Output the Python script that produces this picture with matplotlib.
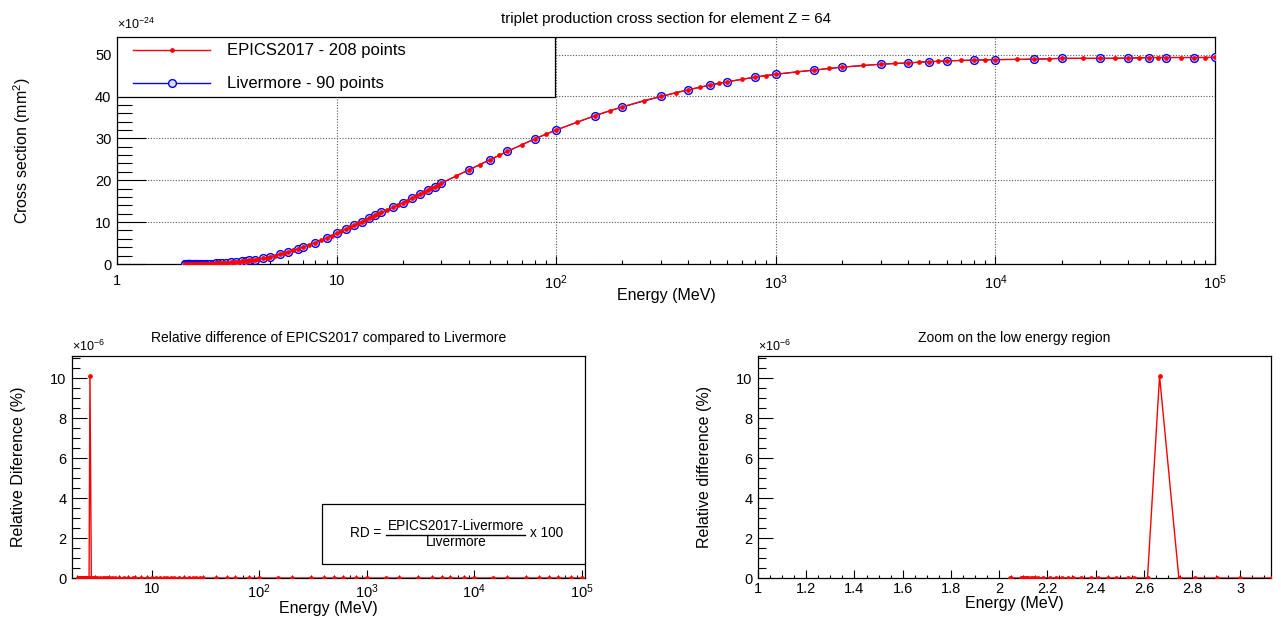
import numpy as np
import matplotlib
matplotlib.use("Agg")
import matplotlib.pyplot as plt
from matplotlib.patches import Rectangle
from matplotlib.lines import Line2D
from matplotlib.ticker import LogLocator, MultipleLocator, FuncFormatter, NullFormatter

plt.rcParams["font.family"] = ["Liberation Sans", "DejaVu Sans"]
plt.rcParams["mathtext.fontset"] = "custom"
plt.rcParams["mathtext.rm"] = "Liberation Sans"
plt.rcParams["mathtext.it"] = "Liberation Sans:italic"
plt.rcParams["mathtext.bf"] = "Liberation Sans:bold"

# Livermore triplet grid (MeV) and cross section (x1e-24 mm^2)
liv_energy = [
    2.044, 2.05, 2.09, 2.095, 2.1, 2.105, 2.11, 2.115, 2.12, 2.13,
    2.14, 2.15, 2.16, 2.18, 2.21, 2.235, 2.26, 2.285, 2.305, 2.34,
    2.38, 2.41, 2.45, 2.485, 2.535, 2.56, 2.615, 2.665, 2.745, 2.81,
    2.905, 3.0, 3.13, 3.3, 3.5, 3.7, 3.85, 4.0, 4.25, 4.6,
    5.0, 5.5, 6.0, 6.7, 7.0, 8.0, 9.0, 10, 11, 12,
    13, 14, 15, 16, 18, 20, 22, 24, 26, 28,
    30, 40, 50, 60, 80, 100, 150, 200, 300, 400,
    500, 600, 800, 1000, 1500, 2000, 3000, 4000, 5000, 6000,
    8000, 1e4, 1.5e4, 2e4, 3e4, 4e4, 5e4, 6e4, 8e4, 1e5,
]
liv_xs = [
    0.0, 0.00002, 0.0003, 0.0004, 0.0005, 0.0006, 0.0008, 0.0009, 0.0011, 0.0014,
    0.0018, 0.0022, 0.0027, 0.0038, 0.0057, 0.0076, 0.0098, 0.012, 0.014, 0.018,
    0.024, 0.029, 0.036, 0.043, 0.054, 0.060, 0.074, 0.088, 0.112, 0.135,
    0.17, 0.21, 0.27, 0.36, 0.48, 0.61, 0.72, 0.85, 1.05, 1.35,
    1.75, 2.3, 2.85, 3.65, 4.0, 5.1, 6.2, 7.3, 8.3, 9.25,
    10.1, 10.9, 11.6, 12.3, 13.5, 14.6, 15.7, 16.7, 17.6, 18.5,
    19.3, 22.5, 24.9, 26.9, 29.9, 32.0, 35.4, 37.5, 40.0, 41.6,
    42.7, 43.5, 44.6, 45.3, 46.3, 47.0, 47.7, 48.0, 48.3, 48.5,
    48.7, 48.8, 48.9, 49.1, 49.1, 49.15, 49.3, 49.3, 49.3, 49.35,
]

# EPICS2017 points that are not on the Livermore grid
epics_extra_energy = [
    2.046, 2.048, 2.052, 2.055, 2.057, 2.06, 2.062, 2.065, 2.067, 2.07,
    2.072, 2.075, 2.077, 2.08, 2.082, 2.085, 2.087, 2.0925, 2.0975, 2.1025,
    2.1075, 2.1125, 2.1175, 2.125, 2.135, 2.145, 2.155, 2.165, 2.17, 2.175,
    2.185, 2.19, 2.195, 2.2, 2.205, 2.215, 2.22, 2.225, 2.245, 2.25,
    2.27, 2.275, 2.295, 2.315, 2.32, 2.33, 2.36, 2.4, 2.43, 2.47,
    2.5, 2.52, 2.55, 2.58, 2.6, 2.64, 2.69, 2.72, 2.78, 2.85,
    2.95, 3.07, 3.2, 3.4, 3.6, 3.78, 3.93, 4.1, 4.4, 4.8,
    5.25, 5.75, 6.35, 7.5, 8.5, 9.5, 10.5, 11.5, 12.5, 13.5,
    14.5, 15.5, 17, 19, 21, 23, 25, 27, 29, 35,
    45, 55, 70, 90, 125, 175, 250, 350, 450, 550,
    700, 900, 1250, 1750, 2500, 3500, 4500, 5500, 7000, 9000,
    1.25e4, 1.75e4, 2.5e4, 3.5e4, 4.5e4, 5.5e4, 7e4, 9e4,
]
epics_extra_xs = [
    0.000003, 0.000008, 0.00003, 0.00005, 0.00006, 0.00008, 0.0001, 0.00012, 0.00014, 0.00016,
    0.00018, 0.0002, 0.00022, 0.00024, 0.00026, 0.00028, 0.00029, 0.00035, 0.00045, 0.00055,
    0.0007, 0.00085, 0.001, 0.0012, 0.0016, 0.002, 0.0025, 0.003, 0.0032, 0.0035,
    0.0041, 0.0044, 0.0047, 0.005, 0.0054, 0.0061, 0.0064, 0.0068, 0.0085, 0.0089,
    0.0107, 0.0111, 0.013, 0.015, 0.0156, 0.0167, 0.021, 0.027, 0.032, 0.04,
    0.046, 0.051, 0.058, 0.065, 0.07, 0.081, 0.095, 0.104, 0.124, 0.15,
    0.19, 0.24, 0.30, 0.42, 0.54, 0.66, 0.78, 0.93, 1.17, 1.55,
    2.02, 2.58, 3.27, 4.57, 5.66, 6.76, 7.8, 8.8, 9.7, 10.5,
    11.25, 11.95, 12.9, 14.05, 15.15, 16.2, 17.15, 18.05, 18.9, 21.0,
    23.75, 25.95, 28.5, 31.0, 33.9, 36.6, 39.0, 40.9, 42.2, 43.1,
    44.1, 45.0, 45.9, 46.7, 47.4, 47.9, 48.2, 48.4, 48.6, 48.75,
    48.85, 49.0, 49.1, 49.1, 49.2, 49.3, 49.3, 49.3,
]

# relative difference on the Livermore grid (units of 1e-6 %)
rd_energy = liv_energy
rd_value = [0.0] * 27 + [10.1] + [0.0] * 62

epics_energy = np.array(liv_energy + epics_extra_energy)
epics_xs = np.array(liv_xs + epics_extra_xs)
order = np.argsort(epics_energy)
epics_energy, epics_xs = epics_energy[order], epics_xs[order]

W, H = 1281, 618
fig = plt.figure(figsize=(W / 100, H / 100), dpi=100)


def px_axes(x0, y0, x1, y1):
    return fig.add_axes([x0 / W, 1 - y1 / H, (x1 - x0) / W, (y1 - y0) / H])


def log_label(v, pos):
    e = int(round(np.log10(v)))
    if e == 0:
        return "1"
    if e == 1:
        return "10"
    return r"$10^{%d}$" % e


def style(ax, ymaj, ymin, xmaj, xmin, xpad):
    for s in ax.spines.values():
        s.set_linewidth(0.9)
    ax.tick_params(which="both", direction="in", top=False, right=False, width=0.8,
                   labelsize=10.5)
    ax.tick_params(axis="y", which="major", length=ymaj, pad=4)
    ax.tick_params(axis="y", which="minor", length=ymin)
    ax.tick_params(axis="x", which="major", length=xmaj, pad=xpad)
    ax.tick_params(axis="x", which="minor", length=xmin)


def mark_red(ax, x, y):
    ax.plot(x, y, color="red", lw=1.0, marker="o", ms=2.4, mec="red", mfc="red", zorder=4)


# ---- top: cross sections ----
ax = px_axes(117, 37, 1215, 264)
ax.plot(liv_energy, liv_xs, color="blue", lw=0.8, marker="o", ms=5.6, mfc="#dcdcff",
        mec="blue", mew=1.0, zorder=3)
mark_red(ax, epics_energy, epics_xs)
ax.set_xscale("log")
ax.set_xlim(1, 1e5)
ax.set_ylim(0, 54.2)
ax.xaxis.set_major_locator(LogLocator(base=10, numticks=10))
ax.xaxis.set_minor_locator(LogLocator(base=10, subs=np.arange(2, 10), numticks=20))
ax.xaxis.set_major_formatter(FuncFormatter(log_label))
ax.xaxis.set_minor_formatter(NullFormatter())
ax.yaxis.set_major_locator(MultipleLocator(10))
ax.yaxis.set_minor_locator(MultipleLocator(2))
ax.grid(True, which="major", color="#555555", ls=(0, (1, 1.5)), lw=0.8)
style(ax, 21, 10.5, 6, 3, 7)
ax.set_xlabel("Energy (MeV)", fontsize=11.5, labelpad=-3)
ax.set_ylabel(r"Cross section (mm$^{2}$)", fontsize=11.5, labelpad=45)
ax.set_title("triplet production cross section for element Z = 64", fontsize=10.8, pad=10)
ax.text(0, 1.02, r"$\times10^{-24}$", transform=ax.transAxes, fontsize=9,
        ha="left", va="bottom")

# legend box drawn in axes coordinates
lx1 = (555 - 117) / 1098
ly0 = (264 - 97) / 227
ax.add_patch(Rectangle((0, ly0), lx1, 1 - ly0, transform=ax.transAxes, fc="white",
                       ec="black", lw=0.9, zorder=6))
for yrow, col, mfc, ms, label in [
    (0.9427, "red", "red", 2.4, "EPICS2017 - 208 points"),
    (0.797, "blue", "#dcdcff", 5.6, "Livermore - 90 points"),
]:
    ax.add_line(Line2D([0.0146, 0.0847], [yrow, yrow], transform=ax.transAxes,
                       color=col, lw=1.0, zorder=7))
    ax.add_line(Line2D([0.0500], [yrow], transform=ax.transAxes, color=col, marker="o",
                       ms=ms, mfc=mfc, mec=col, mew=1.0, zorder=7))
    ax.text(0.1002, yrow, label, transform=ax.transAxes, fontsize=12, va="center",
            ha="left", zorder=7)

# ---- bottom left: relative difference ----
ax2 = px_axes(72, 356, 585, 578)
mark_red(ax2, rd_energy, rd_value)
ax2.set_xscale("log")
ax2.set_xlim(1.814, 1.07e5)
ax2.set_ylim(0, 11.1)
ax2.xaxis.set_major_locator(LogLocator(base=10, numticks=10))
ax2.xaxis.set_minor_locator(LogLocator(base=10, subs=np.arange(2, 10), numticks=20))
ax2.xaxis.set_major_formatter(FuncFormatter(log_label))
ax2.xaxis.set_minor_formatter(NullFormatter())
ax2.yaxis.set_major_locator(MultipleLocator(2))
ax2.yaxis.set_minor_locator(MultipleLocator(0.5))
style(ax2, 11, 5.5, 5.5, 2.5, 3)
ax2.set_xlabel("Energy (MeV)", fontsize=11.5, labelpad=0)
ax2.set_ylabel("Relative Diference (%)", fontsize=11.5, labelpad=17)
ax2.set_title("Relative difference of EPICS2017 compared to Livermore", fontsize=10, pad=10)
ax2.text(0, 1.01, r"$\times10^{-6}$", transform=ax2.transAxes, fontsize=9,
         ha="left", va="bottom")

# RD formula box
fs = 9.8
bx0 = (322 - 72) / 513
by0 = (578 - 564) / 222
by1 = (578 - 504) / 222
ax2.add_patch(Rectangle((bx0, by0), 1 - bx0, by1 - by0, transform=ax2.transAxes,
                        fc="white", ec="black", lw=0.9, zorder=6))
ax2.text((350 - 72) / 513, (578 - 533) / 222, "RD =", transform=ax2.transAxes,
         fontsize=fs, va="center", ha="left", zorder=7)
ax2.text((456 - 72) / 513, (578 - 526) / 222, "EPICS2017-Livermore",
         transform=ax2.transAxes, fontsize=fs, va="center", ha="center", zorder=7)
ax2.text((456 - 72) / 513, (578 - 542) / 222, "Livermore",
         transform=ax2.transAxes, fontsize=fs, va="center", ha="center", zorder=7)
ax2.add_line(Line2D([(386 - 72) / 513, (525 - 72) / 513], [(578 - 534.5) / 222] * 2,
                    transform=ax2.transAxes, color="black", lw=1.0, zorder=7))
ax2.text((530 - 72) / 513, (578 - 533) / 222, "x 100", transform=ax2.transAxes,
         fontsize=fs, va="center", ha="left", zorder=7)

# ---- bottom right: zoom on the low energy region ----
ax3 = px_axes(758, 356, 1271, 578)
mark_red(ax3, rd_energy, rd_value)
ax3.set_xlim(1, 3.127)
ax3.set_ylim(0, 11.1)
ax3.xaxis.set_major_locator(MultipleLocator(0.2))
ax3.xaxis.set_minor_locator(MultipleLocator(0.05))
ax3.xaxis.set_major_formatter(FuncFormatter(lambda v, p: "%g" % round(v, 2)))
ax3.yaxis.set_major_locator(MultipleLocator(2))
ax3.yaxis.set_minor_locator(MultipleLocator(0.5))
style(ax3, 11, 5.5, 5.5, 2.5, 3)
ax3.set_xlabel("Energy (MeV)", fontsize=11.5, labelpad=0)
ax3.set_ylabel("Relative difference (%)", fontsize=11.5, labelpad=17)
ax3.set_title("Zoom on the low energy region", fontsize=10, pad=10)
ax3.text(0, 1.01, r"$\times10^{-6}$", transform=ax3.transAxes, fontsize=9,
         ha="left", va="bottom")

fig.savefig("out.png", dpi=100)
